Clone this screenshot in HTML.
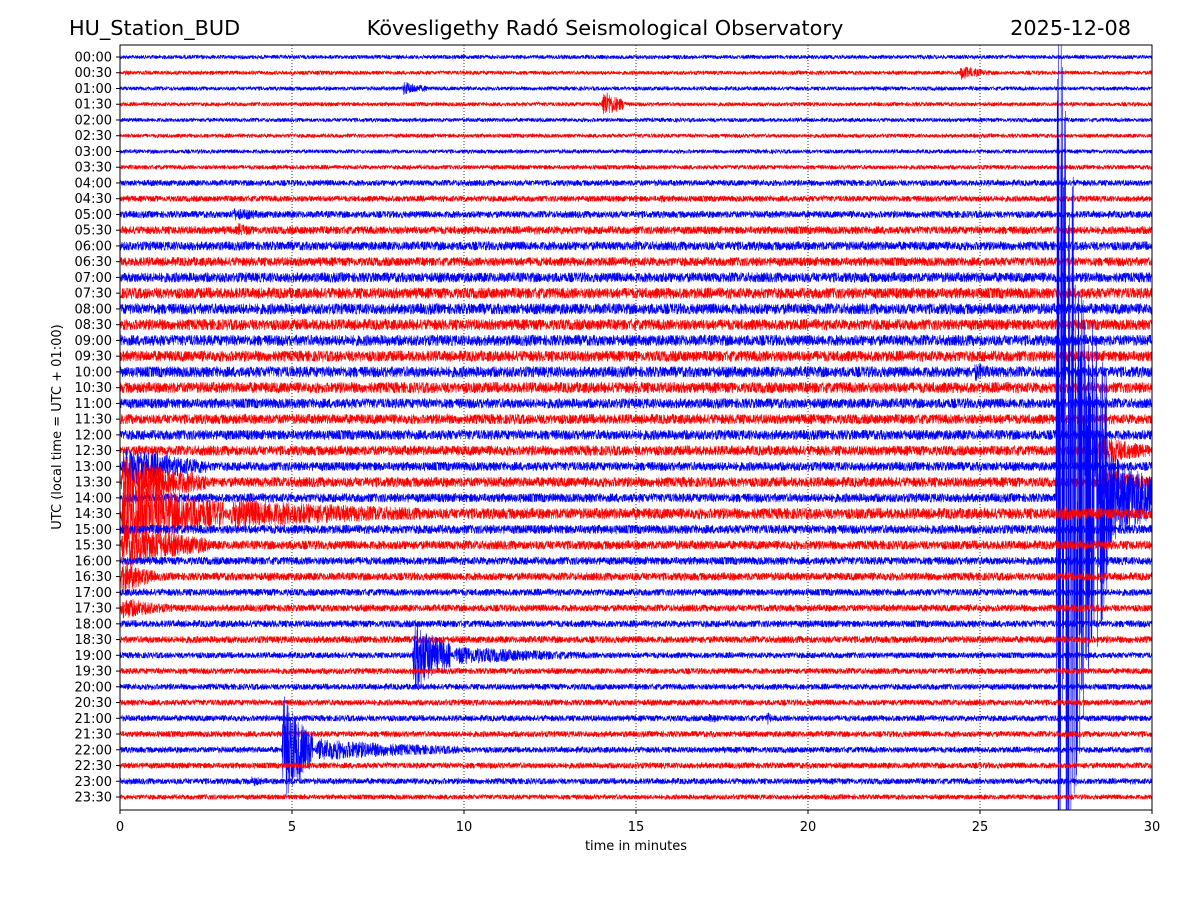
<!DOCTYPE html>
<html><head><meta charset="utf-8">
<style>
html,body{margin:0;padding:0;background:#fff;width:1200px;height:900px;overflow:hidden;font-family:"DejaVu Sans","Liberation Sans",sans-serif;}
svg{display:block;}
svg text{font-family:"DejaVu Sans","Liberation Sans",sans-serif;}
</style></head>
<body>
<svg id="chart" width="1200" height="900" xmlns="http://www.w3.org/2000/svg">
<text x="69" y="35" font-size="20.8">HU_Station_BUD</text>
<text x="605" y="35" font-size="20.8" text-anchor="middle">Kövesligethy Radó Seismological Observatory</text>
<text x="1131" y="35" font-size="20.8" text-anchor="end">2025-12-08</text>
<text transform="translate(61,427) rotate(-90)" font-size="13" text-anchor="middle">UTC (local time = UTC + 01:00)</text>
<text x="636" y="850" font-size="13" text-anchor="middle">time in minutes</text>
<defs><clipPath id="clip"><rect x="120" y="45" width="1032" height="765"/></clipPath></defs>
<g id="grid"></g>
<g id="traces" clip-path="url(#clip)"></g>
<rect x="120" y="45" width="1032" height="765" fill="none" stroke="#000" stroke-width="1"/>
<g id="axes"></g>
</svg>
<script>
const rowLabels = ["00:00","00:30","01:00","01:30","02:00","02:30","03:00","03:30","04:00","04:30","05:00","05:30","06:00","06:30","07:00","07:30","08:00","08:30","09:00","09:30","10:00","10:30","11:00","11:30","12:00","12:30","13:00","13:30","14:00","14:30","15:00","15:30","16:00","16:30","17:00","17:30","18:00","18:30","19:00","19:30","20:00","20:30","21:00","21:30","22:00","22:30","23:00","23:30"];
const baseNoise = [2,2,2,2,2,2,2,2.2,3,3,3.5,4,4.5,4.5,5,5.5,5.5,5.5,5.5,5.5,5.5,5.5,5,5,5,5,4.5,5,4.5,5.5,4.5,4.5,4,4,3.5,3.5,3.5,3.5,3,3,3,3,3,3,3,3,3,2.5];
const xTicks = [0,5,10,15,20,25,30];
// events: row index, start minute, end minute, peak amplitude (px)
const evRow   = [1,   2,   3,   9,    10,  11,  20,  26,  27,  28,  28,  28,  28,  29, 29, 29,  31,  33,  35,  38,  38,  42,   42,   44,  44,  46,  25,  27];
const evStart = [24.4,8.2, 14.0,15.7, 3.2, 3.4, 24.8,0,   0,   27.2,27.2,28.2,27.2,0,  3,  27.2,0,   0,   0,   8.5, 9.6, 17.1, 18.8, 4.7, 5.6, 3.8, 28.4,28.4];
const evEnd   = [25.3,9.0, 14.7,16.0, 5.0, 4.2, 26.0,2.5, 2.5, 28.3,28.7,30,  30,  3,  10, 30,  2.6, 1.0, 1.6, 9.6, 14,  17.7, 19.0, 5.6, 10,  4.5, 30,  30];
const evAmp   = [8,   8,   16,  6,   7,   8,   10,  22,  28,  560, 420, 70,  40,  40, 16, 8,   24,  20,  12,  40,  10,  6,    8,    60,  12,  6,   18,  18];

const x0=120, x1=1152, y0=57, dy=15.745;
const xs = m => x0 + (m/30)*(x1-x0);
const ys = r => y0 + r*dy;
const NS='http://www.w3.org/2000/svg';
const grid=document.getElementById('grid'), axes=document.getElementById('axes'), traces=document.getElementById('traces');

xTicks.forEach(t=>{
  const x=xs(t);
  if(t>0&&t<30){
    const l=document.createElementNS(NS,'line');
    
    
    l.setAttribute('x1',x);l.setAttribute('x2',x);l.setAttribute('y1',45);l.setAttribute('y2',810);
    l.setAttribute('stroke','#000');l.setAttribute('stroke-width','0.8');l.setAttribute('stroke-dasharray','1,2');
    grid.appendChild(l);
  }
  const tk=document.createElementNS(NS,'line');
  
  
  tk.setAttribute('x1',x);tk.setAttribute('x2',x);tk.setAttribute('y1',810);tk.setAttribute('y2',814);tk.setAttribute('stroke','#000');
  axes.appendChild(tk);
  const tx=document.createElementNS(NS,'text');
  
  
  tx.setAttribute('x',x);tx.setAttribute('y',831);tx.setAttribute('font-size','13');tx.setAttribute('text-anchor','middle');
  tx.textContent=t; axes.appendChild(tx);
});
rowLabels.forEach((lab,r)=>{
  const y=ys(r);
  const tk=document.createElementNS(NS,'line');
  
  
  tk.setAttribute('x1',116);tk.setAttribute('x2',120);tk.setAttribute('y1',y);tk.setAttribute('y2',y);tk.setAttribute('stroke','#000');
  axes.appendChild(tk);
  const tx=document.createElementNS(NS,'text');
  
  
  tx.setAttribute('x',112);tx.setAttribute('y',y+4.5);tx.setAttribute('font-size','13');tx.setAttribute('text-anchor','end');
  tx.textContent=lab; axes.appendChild(tx);
});

// deterministic wiggle texture
let seed=12345;
function rnd(){seed=(seed*1103515245+12345)%2147483648;return seed/2147483648*2-1;}
const N=5000;
rowLabels.forEach((lab,r)=>{
  let d='';
  for(let i=0;i<=N;i++){
    const m=30*i/N;
    let a=baseNoise[r];
    for(let k=0;k<evRow.length;k++){
      if(evRow[k]!==r) continue;
      if(m>=evStart[k]&&m<=evEnd[k]){
        const f=(m-evStart[k])/(evEnd[k]-evStart[k]+1e-9);
        const env=Math.min(1,f*20)*Math.exp(-1.2*f);
        a=Math.max(a,evAmp[k]*env);
      }
    }
    let y=ys(r)+a*rnd();
    y=Math.max(45,Math.min(810,y));
    d+=(i?'L':'M')+xs(m).toFixed(1)+','+y.toFixed(1);
  }
  const p=document.createElementNS(NS,'path');
  
  
  p.setAttribute('d',d);p.setAttribute('fill','none');
  p.setAttribute('stroke',r%2===0?'#0000ff':'#ff0000');p.setAttribute('stroke-width','0.6');
  traces.appendChild(p);
});
</script>
</body></html>
